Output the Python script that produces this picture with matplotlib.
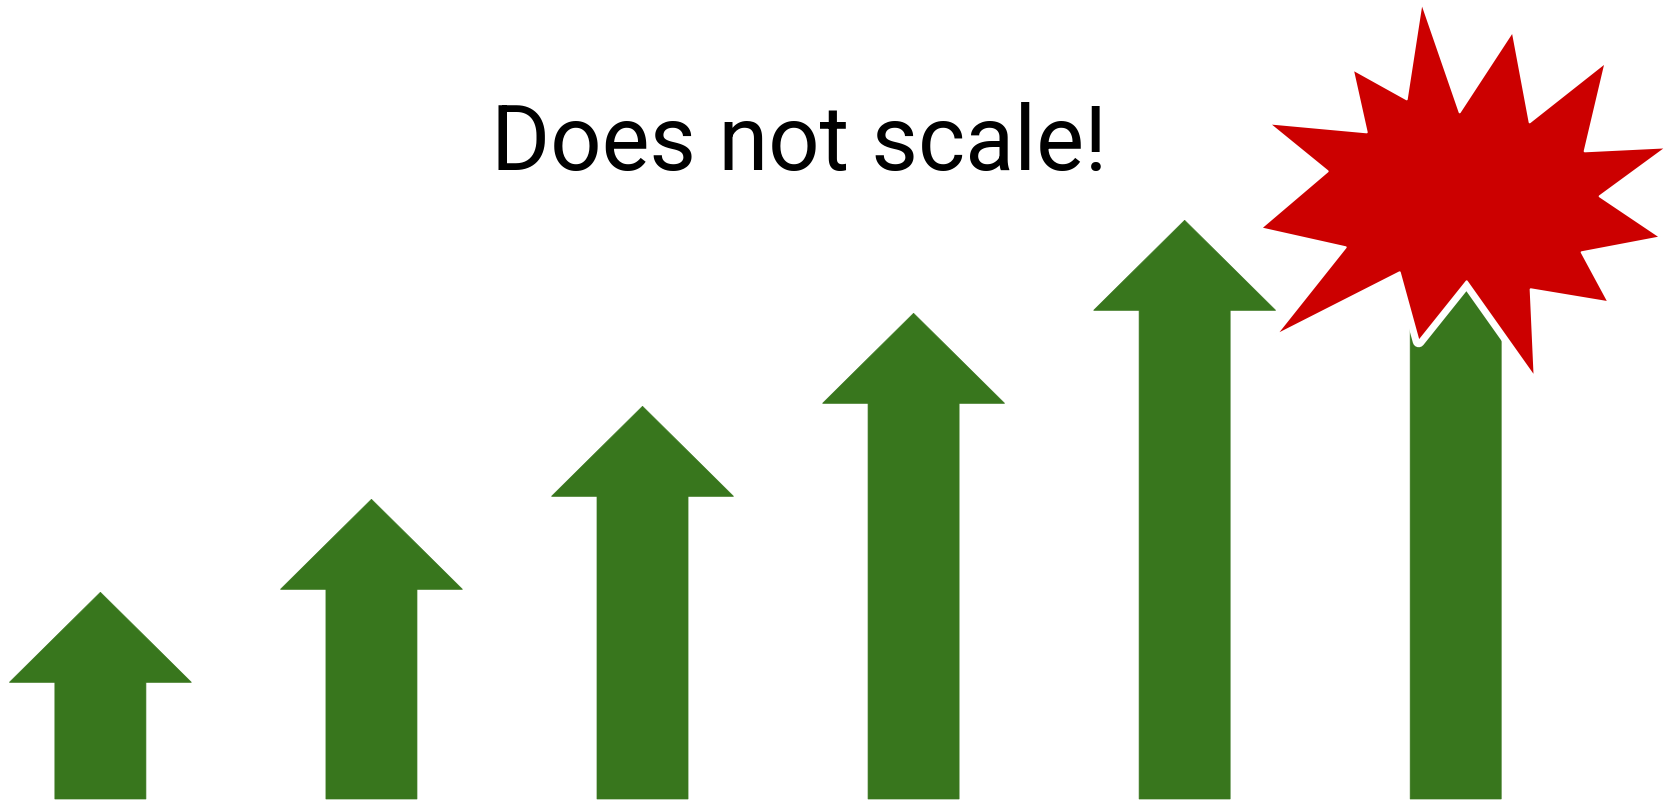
import matplotlib
matplotlib.use('Agg')
import matplotlib.pyplot as plt
from matplotlib.patches import Polygon
from matplotlib.transforms import Affine2D, ScaledTranslation

# each step goes one level higher
steps = [0, 1, 2, 3, 4, 5]
levels = [1, 2, 3, 4, 5, 6]
title = 'Does not scale!'

# outline of the "bang" (pixel offsets around its centre, y pointing down)
burst_outline = [
    (-44, -186), (-6, -76), (47, -157), (64, -66), (140, -126), (119, -37),
    (201, -41), (134, 8), (195, 49), (116, 64), (143, 114), (65, 101),
    (69, 189), (1, 93), (-47, 153), (-66, 84), (-190, 147), (-120, 59),
    (-205, 40), (-138, -17), (-197, -65), (-99, -56), (-113, -119), (-59, -89),
]

green = '#38761d'
red = '#cc0000'

fig = plt.figure(figsize=(16.74, 8.03), dpi=100)
ax = fig.add_axes([0, 0, 1, 1])
ax.set_xlim(-0.3704, 5.8054)
ax.set_ylim(-1.2548, 7.3796)
ax.axis('off')

# arrow geometry (data units)
head_h = 0.968
head_w = 0.3357
shaft_w = 0.1679
base = -1.2225

for x, top in zip(steps, levels):
    pts = [(x - shaft_w, base), (x - shaft_w, top - head_h), (x - head_w, top - head_h),
           (x, top), (x + head_w, top - head_h), (x + shaft_w, top - head_h),
           (x + shaft_w, base)]
    ax.add_patch(Polygon(pts, closed=True, fc=green, ec=green, lw=0.5, zorder=2))

# the bang sits over the head of the last arrow
trans = (Affine2D().scale(1, -1).translate(10, -61)
         + ScaledTranslation(steps[-1], levels[-1], ax.transData))
ax.add_patch(Polygon(burst_outline, closed=True, fc='white', ec='white', lw=8.6,
                     joinstyle='round', transform=trans, zorder=3))
ax.add_patch(Polygon(burst_outline, closed=True, fc=red, ec='white', lw=1.5,
                     joinstyle='round', transform=trans, zorder=4))

fig.text(799 / 1674, 1 - 169.8 / 803, title, ha='center', va='baseline',
         fontsize=65, family=['Roboto', 'DejaVu Sans'])

fig.savefig('out.png', dpi=100, facecolor='white')
